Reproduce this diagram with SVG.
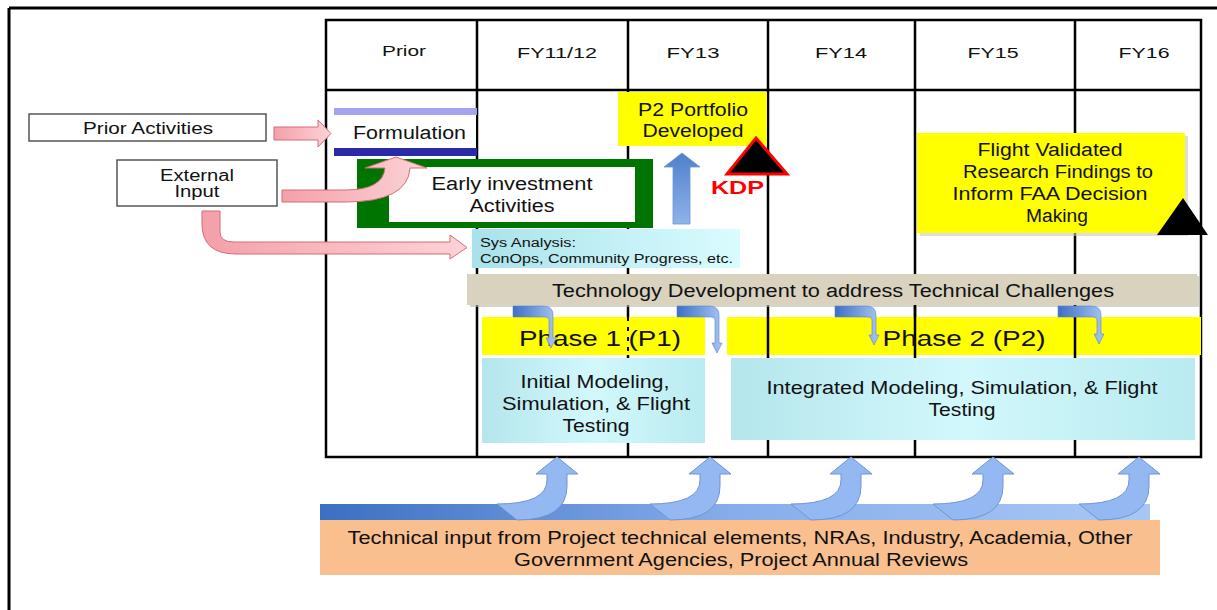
<svg xmlns="http://www.w3.org/2000/svg" width="1217" height="610" viewBox="0 0 1217 610">
<defs>
<style>
text{font-family:"Liberation Sans",Arial,sans-serif;fill:#111;}
.hdr{font-size:15px;}
.lbl{font-size:16px;}
.big{font-size:18px;}
.grid{stroke:#000;stroke-width:2.5;fill:none;}
.box{fill:#fff;stroke:#555;stroke-width:1.5;}
.pink{fill:url(#pinkG);stroke:#cf6f78;stroke-width:1;}
.bend{fill:url(#bendG);stroke:#5b84c8;stroke-width:0.6;}
.up{fill:#93b8f2;stroke:#6f94d4;stroke-width:1;}
</style>
<linearGradient id="pinkG" x1="0" y1="0" x2="1" y2="0">
<stop offset="0" stop-color="#f4a0a8"/><stop offset="1" stop-color="#fcd3d7"/>
</linearGradient>
<linearGradient id="cyanG" x1="0" y1="0" x2="1" y2="0">
<stop offset="0" stop-color="#b4e6ec"/><stop offset="0.5" stop-color="#d2f8fc"/><stop offset="1" stop-color="#b9ebf0"/>
</linearGradient>
<linearGradient id="sysG" x1="0" y1="0" x2="1" y2="0">
<stop offset="0" stop-color="#a9e2ea"/><stop offset="1" stop-color="#dafcff"/>
</linearGradient>
<linearGradient id="bandG" x1="0" y1="0" x2="1" y2="0">
<stop offset="0" stop-color="#3c6fc2"/><stop offset="0.5" stop-color="#86aeea"/><stop offset="1" stop-color="#a8c7f6"/>
</linearGradient>
<linearGradient id="bendG" x1="0" y1="0" x2="1" y2="0">
<stop offset="0" stop-color="#3d6fc4"/><stop offset="1" stop-color="#a6c5f3"/>
</linearGradient>
<linearGradient id="upG" x1="0" y1="1" x2="0" y2="0">
<stop offset="0" stop-color="#8fb3ea"/><stop offset="1" stop-color="#4f80cc"/>
</linearGradient>
</defs>
<rect width="1217" height="610" fill="#fff"/>
<g id="frame">
<line x1="9" y1="8" x2="1217" y2="8" stroke="#000" stroke-width="3"/>
<line x1="9" y1="8" x2="9" y2="610" stroke="#000" stroke-width="3"/>
</g>
<g id="table">
<rect x="326" y="20" width="875" height="437" class="grid"/>
<line x1="326" y1="90" x2="1201" y2="90" class="grid"/>
<line x1="477" y1="20" x2="477" y2="457" class="grid"/>
<line x1="628" y1="20" x2="628" y2="457" class="grid"/>
<line x1="768" y1="20" x2="768" y2="457" class="grid"/>
<line x1="915" y1="20" x2="915" y2="457" class="grid"/>
<line x1="1075" y1="20" x2="1075" y2="457" class="grid"/>
<text class="hdr" x="404" y="56" text-anchor="middle" textLength="44" lengthAdjust="spacingAndGlyphs">Prior</text>
<text class="hdr" x="557" y="58" text-anchor="middle" textLength="80" lengthAdjust="spacingAndGlyphs">FY11/12</text>
<text class="hdr" x="693" y="58" text-anchor="middle" textLength="53" lengthAdjust="spacingAndGlyphs">FY13</text>
<text class="hdr" x="841" y="58" text-anchor="middle" textLength="52" lengthAdjust="spacingAndGlyphs">FY14</text>
<text class="hdr" x="993" y="58" text-anchor="middle" textLength="51" lengthAdjust="spacingAndGlyphs">FY15</text>
<text class="hdr" x="1144" y="58" text-anchor="middle" textLength="51" lengthAdjust="spacingAndGlyphs">FY16</text>
</g>
<g id="prior-activities">
<rect class="box" x="29" y="114" width="237" height="27"/>
<text class="lbl" x="148" y="134" text-anchor="middle" textLength="130" lengthAdjust="spacingAndGlyphs">Prior Activities</text>
</g>
<g id="external-input">
<rect class="box" x="117" y="160" width="160" height="46"/>
<text class="lbl" x="197" y="181" text-anchor="middle" textLength="74" lengthAdjust="spacingAndGlyphs">External</text>
<text class="lbl" x="197" y="197" text-anchor="middle" textLength="45" lengthAdjust="spacingAndGlyphs">Input</text>
</g>
<g id="formulation">
<rect x="328" y="111" width="148" height="41" fill="#fff"/>
<rect x="334" y="108" width="143" height="7" fill="#a4a4ee"/>
<rect x="334" y="148" width="143" height="8" fill="#2a2aa8"/>
<text class="big" x="353" y="139" textLength="113" lengthAdjust="spacingAndGlyphs">Formulation</text>
</g>
<g id="early-investment">
<rect x="357" y="159" width="296" height="69" fill="#007400"/>
<rect x="389" y="167" width="246" height="55" fill="#fff"/>
<text class="big" x="512" y="190" text-anchor="middle" textLength="161" lengthAdjust="spacingAndGlyphs">Early investment</text>
<text class="big" x="512" y="212" text-anchor="middle" textLength="85" lengthAdjust="spacingAndGlyphs">Activities</text>
</g>
<g id="sys-analysis">
<rect x="472" y="229" width="268" height="39" fill="url(#sysG)"/>
<text x="480" y="247" font-size="12.5" textLength="96" lengthAdjust="spacingAndGlyphs">Sys Analysis:</text>
<text x="480" y="263" font-size="12.5" textLength="253" lengthAdjust="spacingAndGlyphs">ConOps, Community Progress, etc.</text>
</g>
<g id="connectors">
<path class="pink" d="M274,127 L318,127 L318,120 L331,133.5 L318,147 L318,140 L274,140 Z"/>
<path class="pink" d="M282,190 L345,190 Q383,190 385,168 L365,168 L396,157 L427,168 L410,168 Q408,202 345,202 L282,202 Z"/>
<path class="pink" d="M202,211 L220,211 L220,232 Q220,242 234,242 L450,242 L450,235 L467,247.5 L450,259 L450,254 L236,254 Q202,254 202,224 Z"/>
</g>
<g id="p2-portfolio">
<rect x="618" y="92" width="149" height="54" fill="#ffff00"/>
<text class="big" x="693" y="116" text-anchor="middle" textLength="110" lengthAdjust="spacingAndGlyphs">P2 Portfolio</text>
<text class="big" x="693" y="137" text-anchor="middle" textLength="101" lengthAdjust="spacingAndGlyphs">Developed</text>
</g>
<g id="up-arrow">
<path d="M673,224 L690,224 L690,167 L700,167 L682,153 L664,167 L673,167 Z" fill="url(#upG)" stroke="#6f94d4" stroke-width="0.8"/>
</g>
<g id="kdp">
<polygon points="756,138 787,174 727,174" fill="#000" stroke="#f00" stroke-width="3" stroke-linejoin="miter"/>
<text x="711" y="194" font-size="18" font-weight="bold" style="fill:#f00" textLength="53" lengthAdjust="spacingAndGlyphs">KDP</text>
</g>
<g id="flight-validated">
<rect x="920" y="136" width="268" height="100" fill="#c8c8c8" opacity="0.6"/>
<rect x="917" y="133" width="268" height="100" fill="#ffff00"/>
<text class="big" x="1050" y="156" text-anchor="middle" textLength="145" lengthAdjust="spacingAndGlyphs">Flight Validated</text>
<text class="big" x="1058" y="178" text-anchor="middle" textLength="190" lengthAdjust="spacingAndGlyphs">Research Findings to</text>
<text class="big" x="1050" y="200" text-anchor="middle" textLength="195" lengthAdjust="spacingAndGlyphs">Inform FAA Decision</text>
<text class="big" x="1057" y="222" text-anchor="middle" textLength="62" lengthAdjust="spacingAndGlyphs">Making</text>
<polygon points="1183,198 1208,235 1157,235" fill="#000"/>
</g>
<g id="tech-dev">
<rect x="470" y="276" width="730" height="31" fill="#bdb8a8" opacity="0.6"/>
<rect x="467" y="274" width="730" height="31" fill="#d8d2bf"/>
<text class="big" x="833" y="297" text-anchor="middle" textLength="562" lengthAdjust="spacingAndGlyphs">Technology Development to address Technical Challenges</text>
</g>
<g id="phase1">
<rect x="482" y="317" width="223" height="38" fill="#ffff00"/>
<line x1="628" y1="317" x2="628" y2="355" stroke="#000" stroke-width="2" stroke-dasharray="4,6"/>
<text x="600" y="346" font-size="22" text-anchor="middle" textLength="162" lengthAdjust="spacingAndGlyphs">Phase 1 (P1)</text>
</g>
<g id="phase2">
<rect x="727" y="317" width="474" height="38" fill="#ffff00"/>
<line x1="768" y1="317" x2="768" y2="355" class="grid"/>
<line x1="915" y1="305" x2="915" y2="355" class="grid"/>
<line x1="1075" y1="305" x2="1075" y2="355" class="grid"/>
<text x="964" y="346" font-size="22" text-anchor="middle" textLength="163" lengthAdjust="spacingAndGlyphs">Phase 2 (P2)</text>
</g>
<g id="bend-arrows">
<path class="bend" d="M513,306 L543,306 Q553,306 553,315 L553,338 L556,338 L551,348 L546,338 L549,338 L549,320 Q549,317 545,317 L513,317 Z"/>
<path class="bend" d="M677,306 L709,306 Q719,306 719,315 L719,343 L722,343 L717,353 L712,343 L715,343 L715,320 Q715,317 711,317 L677,317 Z"/>
<path class="bend" d="M835,306 L866,306 Q876,306 876,315 L876,335 L879,335 L874,345 L869,335 L872,335 L872,320 Q872,317 868,317 L835,317 Z"/>
<path class="bend" d="M1058,306 L1091,306 Q1101,306 1101,315 L1101,334 L1104,334 L1099,344 L1094,334 L1097,334 L1097,320 Q1097,317 1093,317 L1058,317 Z"/>
</g>
<g id="initial-modeling">
<rect x="482" y="358" width="223" height="85" fill="url(#cyanG)"/>
<text class="big" x="595" y="388" text-anchor="middle" textLength="149" lengthAdjust="spacingAndGlyphs">Initial Modeling,</text>
<text class="big" x="596" y="410" text-anchor="middle" textLength="188" lengthAdjust="spacingAndGlyphs">Simulation, &amp; Flight</text>
<text class="big" x="596" y="432" text-anchor="middle" textLength="67" lengthAdjust="spacingAndGlyphs">Testing</text>
</g>
<g id="integrated-modeling">
<rect x="731" y="358" width="464" height="82" fill="url(#cyanG)"/>
<text class="big" x="962" y="394" text-anchor="middle" textLength="391" lengthAdjust="spacingAndGlyphs">Integrated Modeling, Simulation, &amp; Flight</text>
<text class="big" x="962" y="416" text-anchor="middle" textLength="67" lengthAdjust="spacingAndGlyphs">Testing</text>
</g>
<g id="technical-input">
<rect x="320" y="520" width="840" height="55" fill="#f9bf8f"/>
<rect x="320" y="504" width="830" height="16" fill="url(#bandG)"/>
<path class="up" d="M497,504 Q547,504 547,480 L547,474 L536,474 L557,457 L578,474 L567,474 L567,486 Q567,520 517,520 Z"/>
<path class="up" d="M650,504 Q700,504 700,480 L700,474 L689,474 L710,457 L731,474 L720,474 L720,486 Q720,520 670,520 Z"/>
<path class="up" d="M791,504 Q841,504 841,480 L841,474 L830,474 L851,457 L872,474 L861,474 L861,486 Q861,520 811,520 Z"/>
<path class="up" d="M933,504 Q983,504 983,480 L983,474 L972,474 L993,457 L1014,474 L1003,474 L1003,486 Q1003,520 953,520 Z"/>
<path class="up" d="M1079,504 Q1129,504 1129,480 L1129,474 L1118,474 L1139,457 L1160,474 L1149,474 L1149,486 Q1149,520 1099,520 Z"/>
<text class="big" x="740" y="544" text-anchor="middle" textLength="785" lengthAdjust="spacingAndGlyphs">Technical input from Project technical elements, NRAs, Industry, Academia, Other</text>
<text class="big" x="741" y="566" text-anchor="middle" textLength="454" lengthAdjust="spacingAndGlyphs">Government Agencies, Project Annual Reviews</text>
</g>
</svg>
